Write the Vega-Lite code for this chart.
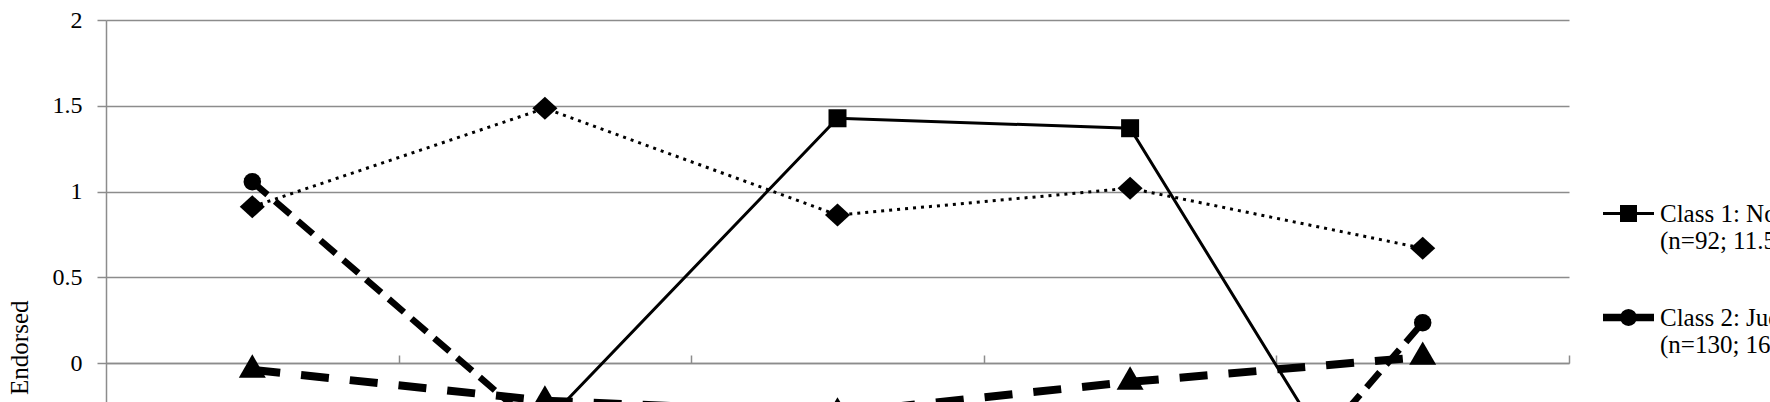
{
  "$schema": "https://vega.github.io/schema/vega-lite/v6.json",
  "autosize": {"type": "none"},
  "width": 1463,
  "height": 382,
  "padding": {"left": 106, "top": 20, "right": 201, "bottom": 0},
  "background": "white",
  "config": {"view": {"stroke": null}, "font": "Liberation Serif"},
  "data": {
    "values": [
      {"class": "Class 1", "item": 1, "value": -0.6},
      {"class": "Class 1", "item": 2, "value": -0.35},
      {"class": "Class 1", "item": 3, "value": 1.427},
      {"class": "Class 1", "item": 4, "value": 1.369},
      {"class": "Class 1", "item": 5, "value": -1.4},
      {"class": "Class 2", "item": 1, "value": 1.057},
      {"class": "Class 2", "item": 2, "value": -0.41},
      {"class": "Class 2", "item": 3, "value": -0.8},
      {"class": "Class 2", "item": 4, "value": -1.73},
      {"class": "Class 2", "item": 5, "value": 0.235},
      {"class": "Class 3", "item": 1, "value": -0.04},
      {"class": "Class 3", "item": 2, "value": -0.22},
      {"class": "Class 3", "item": 3, "value": -0.29},
      {"class": "Class 3", "item": 4, "value": -0.11},
      {"class": "Class 3", "item": 5, "value": 0.035},
      {"class": "Class 4", "item": 1, "value": 0.911},
      {"class": "Class 4", "item": 2, "value": 1.485},
      {"class": "Class 4", "item": 3, "value": 0.863},
      {"class": "Class 4", "item": 4, "value": 1.019},
      {"class": "Class 4", "item": 5, "value": 0.669}
    ]
  },
  "encoding": {
    "x": {
      "field": "item", "type": "quantitative",
      "scale": {"domain": [0.5, 5.5], "nice": false, "zero": false},
      "axis": {
        "values": [1.5, 2.5, 3.5, 4.5, 5.5], "labels": false, "grid": false,
        "domainColor": "#8c8c8c", "domainWidth": 1.5,
        "tickColor": "#8c8c8c", "tickWidth": 1.5, "tickSize": -8,
        "offset": -39, "title": null
      }
    },
    "y": {
      "field": "value", "type": "quantitative",
      "scale": {"domain": [-0.2274, 2], "nice": false, "zero": false},
      "axis": {
        "values": [0, 0.5, 1, 1.5, 2], "format": "~g",
        "grid": true, "gridColor": "#8c8c8c", "gridWidth": 1.5,
        "domainColor": "#8c8c8c", "domainWidth": 1.5,
        "tickColor": "#8c8c8c", "tickWidth": 1.5, "tickSize": 9,
        "labelFont": "Liberation Serif", "labelFontSize": 24, "labelColor": "black", "labelPadding": 15,
        "title": "Mean Number of Items Endorsed",
        "titleFont": "Liberation Serif", "titleFontSize": 25, "titleFontWeight": "normal", "titleColor": "black",
        "titleAngle": -90, "titleAlign": "right", "titleBaseline": "alphabetic",
        "titleX": -79, "titleY": 280
      }
    }
  },
  "layer": [
    {
      "transform": [{"filter": "datum.class == 'Class 4'"}],
      "mark": {"type": "line", "clip": true, "color": "black", "strokeWidth": 3, "strokeDash": [3, 5]}
    },
    {
      "transform": [{"filter": "datum.class == 'Class 1'"}],
      "mark": {"type": "line", "clip": true, "color": "black", "strokeWidth": 3}
    },
    {
      "transform": [{"filter": "datum.class == 'Class 3'"}],
      "mark": {"type": "line", "clip": true, "color": "black", "strokeWidth": 8, "strokeDash": [28, 21]}
    },
    {
      "transform": [{"filter": "datum.class == 'Class 2'"}],
      "mark": {"type": "line", "clip": true, "color": "black", "strokeWidth": 6.5, "strokeDash": [20, 10]}
    },
    {
      "mark": {"type": "point", "filled": true, "opacity": 1, "clip": true, "color": "black", "size": 729},
      "encoding": {
        "shape": {
          "field": "class", "type": "nominal",
          "scale": {
            "domain": ["Class 1", "Class 2", "Class 3", "Class 4"],
            "range": [
              "M-0.667,-0.667H0.667V0.667H-0.667Z",
              "M0.65,0L0.6005,0.2487L0.4596,0.4596L0.2487,0.6005L0,0.65L-0.2487,0.6005L-0.4596,0.4596L-0.6005,0.2487L-0.65,0L-0.6005,-0.2487L-0.4596,-0.4596L-0.2487,-0.6005L0,-0.65L0.2487,-0.6005L0.4596,-0.4596L0.6005,-0.2487Z",
              "M0,-1.155L1,0.577H-1Z",
              "M0,-0.85L0.93,0L0,0.85L-0.93,0Z"
            ]
          },
          "legend": null
        }
      }
    },
    {
      "transform": [{"filter": "false"}],
      "mark": {"type": "point", "filled": true, "color": "black", "opacity": 1, "clip": true},
      "encoding": {
        "shape": {
          "field": "class", "type": "nominal",
          "scale": {
            "domain": ["Class 1", "Class 2", "Class 3", "Class 4"],
            "range": [
              "M-1,-0.06H1V0.06H-1ZM-0.333,-0.333H0.333V0.333H-0.333Z",
              "M-1,-0.15H1V0.15H-1ZM0.333,0L0.3077,0.1274L0.2355,0.2355L0.1274,0.3077L0,0.333L-0.1274,0.3077L-0.2355,0.2355L-0.3077,0.1274L-0.333,0L-0.3077,-0.1274L-0.2355,-0.2355L-0.1274,-0.3077L0,-0.333L0.1274,-0.3077L0.2355,-0.2355L0.3077,-0.1274Z",
              "M-1,-0.15H1V0.15H-1ZM0,-0.45L0.4,0.25H-0.4Z",
              "M-1,-0.06H1V0.06H-1ZM0,-0.45L0.45,0L0,0.45L-0.45,0Z"
            ]
          },
          "legend": {
            "orient": "none", "legendX": 1496, "legendY": 167, "title": null, "padding": 0,
            "symbolSize": 2601, "symbolFillColor": "black", "symbolOpacity": 1,
            "labelFont": "Liberation Serif", "labelFontSize": 25, "labelColor": "black",
            "labelOffset": 5, "rowPadding": 37, "labelLimit": 2000,
            "labelExpr": "datum.label == 'Class 1' ? ['Class 1: Normative', '(n=92; 11.5%)'] : datum.label == 'Class 2' ? ['Class 2: Judgmental', '(n=130; 16.3%)'] : datum.label == 'Class 3' ? ['Class 3: Low', '(n=300; 37.5%)'] : ['Class 4: High', '(n=278; 34.7%)']"
          }
        }
      }
    }
  ],
  "resolve": {"scale": {"shape": "independent"}, "legend": {"shape": "independent"}}
}
